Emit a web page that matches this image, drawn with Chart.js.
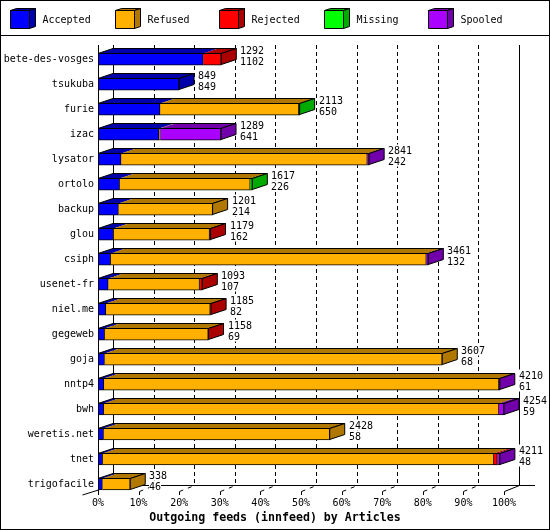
<!DOCTYPE html>
<html>
<head>
<meta charset="utf-8">
<title>Outgoing feeds (innfeed) by Articles</title>
<script src="https://cdn.jsdelivr.net/npm/chart.js@4.4.1/dist/chart.umd.min.js"></script>
<style>
    html, body { margin: 0; padding: 0; background: #fff; }
    canvas { display: block; }
</style>
</head>
<body>
<canvas id="chart" width="550" height="530"></canvas>
<script>
const peers = ['bete-des-vosges', 'tsukuba', 'furie', 'izac', 'lysator', 'ortolo', 'backup', 'glou', 'csiph',
    'usenet-fr', 'niel.me', 'gegeweb', 'goja', 'nntp4', 'bwh', 'weretis.net', 'tnet', 'trigofacile'];

// articles per peer
const accepted = [1102, 849, 650, 641, 242, 226, 214, 162, 132, 107, 82, 69, 68, 61, 59, 58, 48, 46];
const refused  = [0, 0, 1455, 12, 2580, 1369, 987, 1007, 3308, 957, 1094, 1086, 3539, 4140, 4142, 2370, 4100, 292];
const rejected = [190, 0, 0, 0, 0, 0, 0, 10, 0, 29, 9, 3, 0, 0, 0, 0, 36, 0];
const missing  = [0, 0, 8, 0, 0, 22, 0, 0, 0, 0, 0, 0, 0, 0, 0, 0, 0, 0];
const spooled  = [0, 0, 0, 636, 19, 0, 0, 0, 21, 0, 0, 0, 0, 9, 53, 0, 27, 0];

const percentTicks = [0, 10, 20, 30, 40, 50, 60, 70, 80, 90, 100];

const series = [
    { label: 'Accepted', values: accepted, color: '#0000ff', dark: '#0000aa' },
    { label: 'Refused', values: refused, color: '#ffb000', dark: '#b07800' },
    { label: 'Rejected', values: rejected, color: '#ff0000', dark: '#aa0000' },
    { label: 'Missing', values: missing, color: '#00ff00', dark: '#00aa00' },
    { label: 'Spooled', values: spooled, color: '#aa00ff', dark: '#7200aa' },
];

const totals = peers.map((_, i) => series.reduce((sum, s) => sum + s.values[i], 0));
const maxTotal = Math.max(...totals);
const toPercent = (v) => v / maxTotal * 100;

const MONO = '"DejaVu Sans Mono", "Liberation Mono", monospace';
const DX = 15;
const DY = 5;

const line = (ctx, pts, dash) => {
    ctx.save();
    ctx.setLineDash(dash || []);
    ctx.beginPath();
    pts.forEach(([px, py], k) => (k ? ctx.lineTo(px, py) : ctx.moveTo(px, py)));
    ctx.stroke();
    ctx.restore();
};

const poly = (ctx, pts, fill) => {
    ctx.beginPath();
    pts.forEach(([px, py], k) => (k ? ctx.lineTo(px, py) : ctx.moveTo(px, py)));
    ctx.closePath();
    ctx.fillStyle = fill;
    ctx.fill();
    ctx.stroke();
};

const threeD = {
    id: 'threeD',
    beforeDatasetsDraw(chart) {
        const { ctx, chartArea: area, scales: { x, y } } = chart;
        const floorFront = Math.round(y.getPixelForValue(peers.length - 1) + 6);
        const floorBack = floorFront - DY + 0.5;
        const wallTop = Math.round(area.top) - 2;

        ctx.save();
        ctx.strokeStyle = '#000';
        ctx.lineWidth = 1;

        percentTicks.forEach((v) => {
            const bx = Math.round(x.getPixelForValue(v)) + DX + 0.5;
            const solid = v === 0 || v === 100;
            line(ctx, [[bx, wallTop], [bx, floorBack]], solid ? [] : [4, 3]);
        });

        line(ctx, [[Math.round(x.getPixelForValue(0)) + DX, floorBack], [Math.round(x.getPixelForValue(100)) + 2 * DX + 1, floorBack]]);

        percentTicks.forEach((v) => {
            const fx = Math.round(x.getPixelForValue(v)) + 0.5;
            if (v === 0) {
                line(ctx, [[fx - 16, floorFront + 5], [fx, floorFront]]);
                return;
            }
            line(ctx, [[fx, floorFront + 1.5], [fx, floorFront + 5]]);
            line(ctx, [[fx, floorFront + 1.5], [fx + DX, floorBack]], v === 100 ? [] : [4, 5]);
        });
        ctx.restore();
    },
    afterDatasetsDraw(chart) {
        const { ctx, chartArea: area, scales: { y } } = chart;
        const metas = series.map((_, d) => chart.getDatasetMeta(d));

        ctx.save();
        ctx.strokeStyle = '#000';
        ctx.lineWidth = 1;

        peers.forEach((peer, i) => {
            const segs = [];
            metas.forEach((meta, d) => {
                if (series[d].values[i] <= 0) return;
                const bar = meta.data[i].getProps(['x', 'y', 'base', 'height'], true);
                segs.push({ start: bar.base, end: bar.x, top: bar.y - bar.height / 2, bottom: bar.y + bar.height / 2, dark: series[d].dark });
            });
            if (!segs.length) return;

            const top = Math.round(segs[0].top) + 0.5;
            const bottom = Math.round(segs[0].bottom) - 0.5;

            segs.forEach((s) => {
                ctx.beginPath();
                ctx.moveTo(s.start, top);
                ctx.lineTo(s.start + DX, top - DY);
                ctx.lineTo(s.end + DX, top - DY);
                ctx.lineTo(s.end, top);
                ctx.closePath();
                ctx.fillStyle = s.dark;
                ctx.fill();
            });
            const first = segs[0];
            const last = segs[segs.length - 1];
            line(ctx, [[first.start, top], [first.start + DX, top - DY], [last.end + DX, top - DY], [last.end, top]]);
            line(ctx, [[first.start, top], [last.end, top]]);

            poly(ctx, [[last.end, top], [last.end + DX, top - DY], [last.end + DX, bottom - DY], [last.end, bottom]], last.dark);

            // total / accepted labels
            ctx.font = `10px ${MONO}`;
            ctx.textAlign = 'left';
            ctx.textBaseline = 'alphabetic';
            const tx = Math.round(last.end) + DX + 4;
            [[String(totals[i]), bottom - 11], [String(accepted[i]), bottom]].forEach(([txt, by]) => {
                const w = ctx.measureText(txt).width;
                ctx.fillStyle = '#fff';
                ctx.fillRect(tx, by - 9, w, 11);
                ctx.fillStyle = '#000';
                ctx.fillText(txt, tx, by);
            });
        });

        const fx = Math.round(area.left) + 0.5;
        const floorFront = Math.round(y.getPixelForValue(peers.length - 1) + 6);
        line(ctx, [[fx, Math.round(area.top) - 2], [fx, floorFront + 5]]);
        ctx.restore();
    },
    afterDraw(chart) {
        const { ctx, width, height } = chart;
        ctx.save();
        ctx.strokeStyle = '#000';
        ctx.lineWidth = 1;

        // legend with little cubes
        series.forEach((s, k) => {
            const lx = 10 + Math.round(k * 104.5) + 0.5;
            const ly = 10.5;
            const w = 19;
            const h = 18;
            poly(ctx, [[lx, ly], [lx + 6, ly - 2], [lx + w + 6, ly - 2], [lx + w, ly]], s.dark);
            poly(ctx, [[lx + w, ly], [lx + w + 6, ly - 2], [lx + w + 6, ly + h - 2], [lx + w, ly + h]], s.dark);
            poly(ctx, [[lx, ly], [lx + w, ly], [lx + w, ly + h], [lx, ly + h]], s.color);
            ctx.fillStyle = '#000';
            ctx.font = `10px ${MONO}`;
            ctx.textAlign = 'left';
            ctx.textBaseline = 'middle';
            ctx.fillText(s.label, lx + 32, 20);
        });

        line(ctx, [[0, 35.5], [width, 35.5]]);
        ctx.strokeRect(0.5, 0.5, width - 1, height - 1);

        ctx.fillStyle = '#000';
        ctx.font = `bold 11.6px ${MONO}`;
        ctx.textAlign = 'center';
        ctx.textBaseline = 'alphabetic';
        ctx.fillText('Outgoing feeds (innfeed) by Articles', width / 2, 520.5);
        ctx.restore();
    },
};

new Chart(document.getElementById('chart'), {
    type: 'bar',
    data: {
        labels: peers,
        datasets: series.map((s) => ({
            label: s.label,
            data: s.values.map(toPercent),
            backgroundColor: s.color,
            borderColor: '#000',
            borderWidth: 1,
            borderSkipped: 'start',
            barThickness: 12,
        })),
    },
    options: {
        indexAxis: 'y',
        responsive: false,
        devicePixelRatio: 1,
        animation: false,
        events: [],
        layout: { padding: { top: 46.7, right: 46, left: 0, bottom: 0 } },
        plugins: { legend: { display: false }, tooltip: { enabled: false } },
        scales: {
            x: {
                stacked: true,
                min: 0,
                max: 100,
                afterFit: (scale) => { scale.height = 33.5; },
                afterBuildTicks: (scale) => { scale.ticks = percentTicks.map((v) => ({ value: v })); },
                grid: { display: false, drawTicks: false },
                border: { display: false },
                ticks: {
                    autoSkip: false,
                    maxRotation: 0,
                    padding: 1,
                    color: '#000',
                    font: { family: MONO, size: 10 },
                    callback: (v) => `${v}%`,
                },
            },
            y: {
                stacked: true,
                afterFit: (scale) => { scale.width = 98; },
                grid: { display: false, drawTicks: false },
                border: { display: false },
                ticks: {
                    autoSkip: false,
                    padding: 4,
                    color: '#000',
                    font: { family: MONO, size: 10 },
                },
            },
        },
    },
    plugins: [threeD],
});
</script>
</body>
</html>
